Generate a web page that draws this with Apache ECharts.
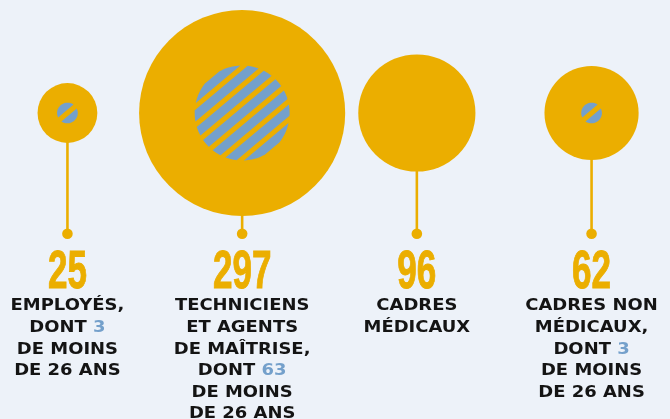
<!DOCTYPE html>
<html><head><meta charset="utf-8">
<script src="https://cdn.jsdelivr.net/npm/echarts@6/dist/echarts.min.js"></script>
<style>html,body{margin:0;padding:0;background:#EDF2F9}#c{width:670px;height:419px}</style>
</head><body><div id="c"></div>
<script>
// ---- data ----
const categories = ['Employés', 'Techniciens et agents de maîtrise', 'Cadres médicaux', 'Cadres non médicaux'];
const totals = [25, 297, 96, 62];
const under26 = [3, 63, 0, 3];
const labelLines = [
  ['EMPLOYÉS,', 'DONT #', 'DE MOINS', 'DE 26 ANS'],
  ['TECHNICIENS', 'ET AGENTS', 'DE MAÎTRISE,', 'DONT #', 'DE MOINS', 'DE 26 ANS'],
  ['CADRES', 'MÉDICAUX'],
  ['CADRES NON', 'MÉDICAUX,', 'DONT #', 'DE MOINS', 'DE 26 ANS']
];

// ---- style ----
const GOLD = '#EBAE00', BLUE = '#74A0CB', INK = '#141414';
const CIRCLE_Y = 113, DOT_Y = 233.7, NUM_Y = 273.5, LABEL_Y = 295.5;
const PX_PER_SQRT = 5.98;              // radius = k * sqrt(value)
const HATCH_ANGLE = 40 * Math.PI / 180, HATCH_PERIOD = 14, HATCH_WIDTH = 9;
const HATCH_PHASE = [0.5, 0, 0, 0.5];

function measure(font, text) {
  const c = document.createElement('canvas').getContext('2d');
  c.font = font; return c.measureText(text).width;
}
const NUM_FAMILY = '"Liberation Sans Narrow", "Liberation Sans", sans-serif';
const numScale = 58.5 / measure('bold 54px ' + NUM_FAMILY, '297');
const LAB_FAMILY = 'DejaVu Sans';
const labScale = 134.5 / measure('bold 16px "' + LAB_FAMILY + '"', 'TECHNICIENS');

const items = categories.map((c, i) => [i, totals[i], under26[i]]);

function richLabel(lines, n) {
  return lines.map(l => {
    const parts = l.split('#');
    let s = parts[0] ? '{t|' + parts[0] + '}' : '';
    if (parts.length > 1) {
      s += '{b|' + n + '}';
      if (parts[1]) s += '{t|' + parts[1] + '}';
    }
    return s;
  }).join('\n');
}

function stripePolygon(cx, cy, r, u1, u2) {
  u1 = Math.max(u1, -r); u2 = Math.min(u2, r);
  if (u2 <= u1) return null;
  const nx = Math.sin(HATCH_ANGLE), ny = Math.cos(HATCH_ANGLE);
  const dx = Math.cos(HATCH_ANGLE), dy = -Math.sin(HATCH_ANGLE);
  const pts = [], N = 16;
  for (let k = 0; k <= N; k++) {
    const u = u1 + (u2 - u1) * k / N, v = Math.sqrt(Math.max(0, r * r - u * u));
    pts.push([cx + u * nx + v * dx, cy + u * ny + v * dy]);
  }
  for (let k = N; k >= 0; k--) {
    const u = u1 + (u2 - u1) * k / N, v = -Math.sqrt(Math.max(0, r * r - u * u));
    pts.push([cx + u * nx + v * dx, cy + u * ny + v * dy]);
  }
  return pts;
}

const chart = echarts.init(document.getElementById('c'), null, {renderer: 'canvas'});
chart.setOption({
  backgroundColor: '#EDF2F9',
  animation: false,
  grid: {left: 0, top: 0, right: 0, bottom: 0},
  xAxis: {type: 'value', min: -0.386, max: 3.449, show: false},
  yAxis: {type: 'value', min: 0, max: 419, inverse: true, show: false},
  series: [
    {
      type: 'custom', z: 1, silent: true,
      data: items,
      renderItem(params, api) {
        const i = api.value(0);
        const c = api.coord([i, CIRCLE_Y]), d = api.coord([i, DOT_Y]);
        return {type: 'group', children: [
          {type: 'line', shape: {x1: c[0], y1: c[1], x2: d[0], y2: d[1]}, style: {stroke: GOLD, lineWidth: 2.6}},
          {type: 'circle', shape: {cx: d[0], cy: d[1], r: 5.3}, style: {fill: GOLD}}
        ]};
      }
    },
    {
      type: 'scatter', z: 2, silent: true,
      data: items.map(it => [it[0], CIRCLE_Y, it[1]]),
      symbolSize: v => 2 * PX_PER_SQRT * Math.sqrt(v[2]),
      itemStyle: {color: GOLD, opacity: 1},
      emphasis: {disabled: true}
    },
    {
      type: 'custom', z: 3, silent: true,
      data: items,
      renderItem(params, api) {
        const i = api.value(0), n = api.value(2);
        if (!n) return null;
        const c = api.coord([i, CIRCLE_Y]);
        const r = PX_PER_SQRT * Math.sqrt(n);
        const off = HATCH_PHASE[i] * HATCH_PERIOD;
        const children = [];
        const kMax = Math.ceil(r / HATCH_PERIOD) + 1;
        for (let k = -kMax; k <= kMax; k++) {
          const m = off + k * HATCH_PERIOD;
          const pts = stripePolygon(c[0], c[1], r, m - HATCH_WIDTH / 2, m + HATCH_WIDTH / 2);
          if (pts) children.push({type: 'polygon', shape: {points: pts}, style: {fill: BLUE}});
        }
        return {type: 'group', children};
      }
    },
    {
      type: 'custom', z: 3, silent: true,
      data: items,
      renderItem(params, api) {
        const i = api.value(0);
        const c = api.coord([i, NUM_Y]), l = api.coord([i, LABEL_Y]);
        const tok = {fontFamily: LAB_FAMILY, fontWeight: 'bold', fontSize: 16, lineHeight: 21.6, align: 'center'};
        return {type: 'group', children: [
          {type: 'text', x: c[0], y: c[1], scaleX: numScale,
           style: {text: String(totals[i]), fontFamily: NUM_FAMILY, fontWeight: 'bold', fontSize: 54,
                   fill: GOLD, stroke: GOLD, lineWidth: 1, align: 'center', verticalAlign: 'middle'}},
          {type: 'text', x: l[0], y: l[1], scaleX: labScale,
           style: {text: richLabel(labelLines[i], under26[i]), fontFamily: LAB_FAMILY, fontWeight: 'bold',
                   fontSize: 16, lineHeight: 21.6, fill: INK, align: 'center', verticalAlign: 'top',
                   rich: {t: Object.assign({fill: INK}, tok), b: Object.assign({fill: BLUE}, tok)}}}
        ]};
      }
    }
  ]
});
</script>
</body></html>
